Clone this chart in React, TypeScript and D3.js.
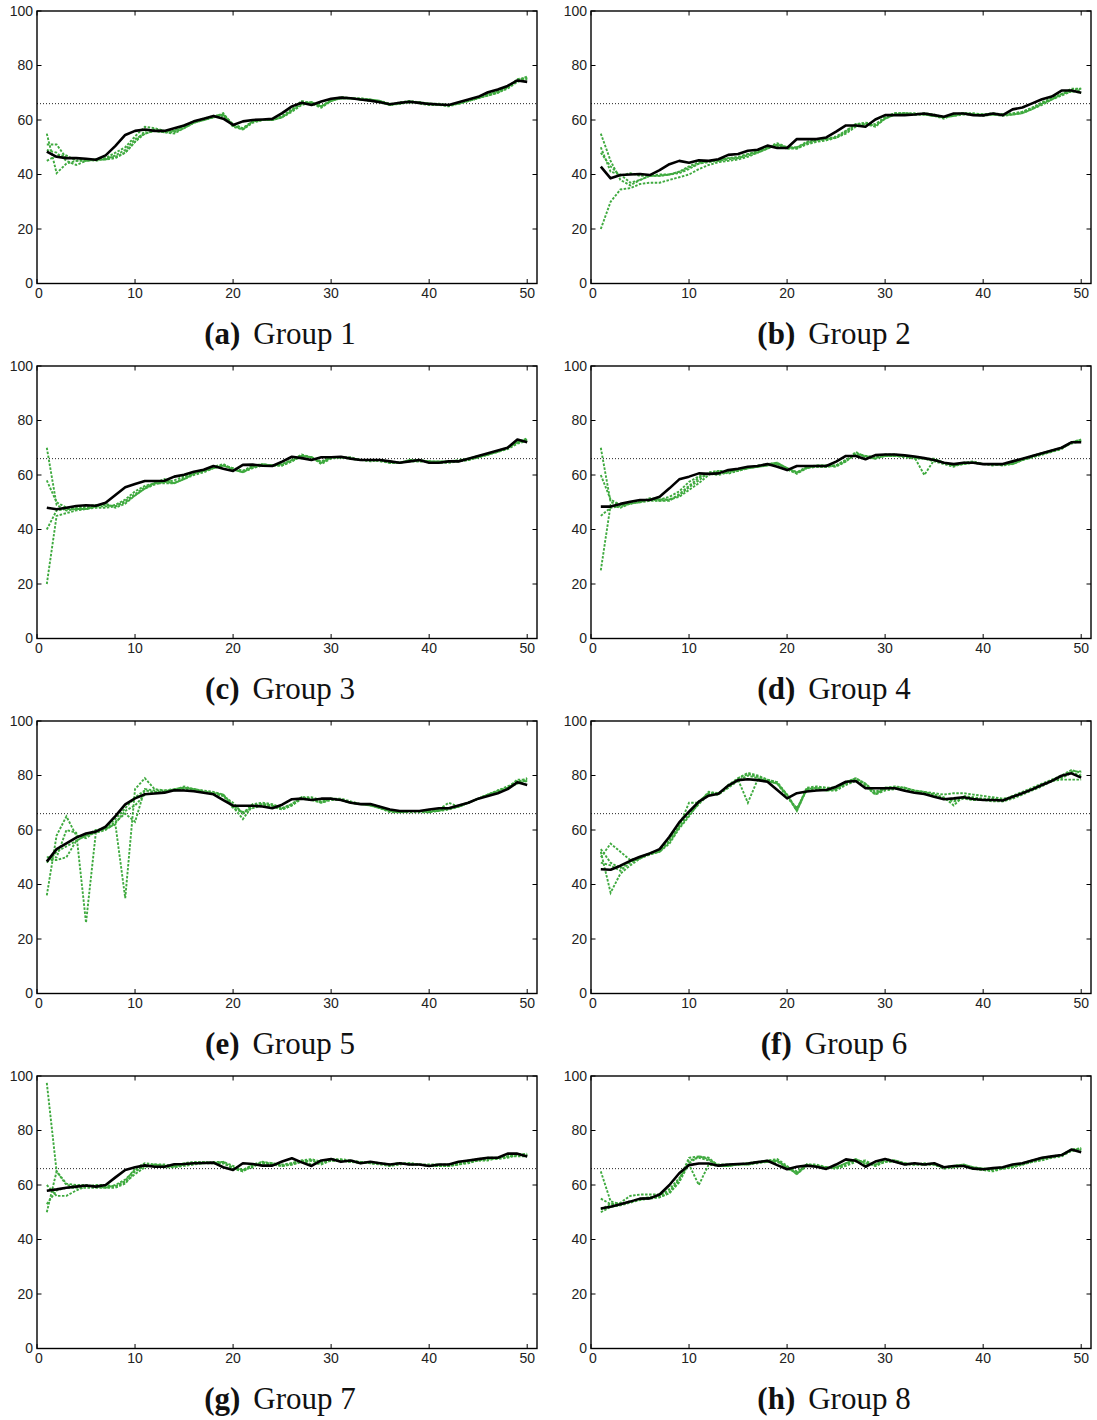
import React from 'react';
import * as d3 from 'd3';

// iteration index 1..50
const iterations = d3.range(1, 51);
const xTickValues = [0, 10, 20, 30, 40, 50];
const yTickValues = [0, 20, 40, 60, 80, 100];
const threshold = 66;

const meanA = [48.4, 46.5, 46, 46, 45.8, 45.4, 47, 50.5, 54.5, 56, 56.5, 56, 56, 57, 58, 59.5, 60.5, 61.5, 60.5, 58.2, 59.5, 60, 60.2, 60.4, 62.5, 65, 66.3, 65.5, 66.8, 67.8, 68.2, 68, 67.5, 67.1, 66.5, 65.8, 66.3, 66.7, 66.3, 65.9, 65.7, 65.5, 66.5, 67.5, 68.5, 70.2, 71.2, 72.5, 74.5, 74];
const runsA = [
  [55, 40.5, 44, 45, 45, 45.5, 45.5, 46, 48, 52, 55, 56, 55.5, 55.5, 57, 59, 60, 61, 62.5, 58, 56.5, 59.5, 60, 60, 61, 63.5, 66, 66.5, 65, 67, 68, 68, 67.5, 67.5, 67, 65.5, 66, 67, 66.5, 66, 65.5, 65.5, 66, 67, 68, 69, 70, 72, 74.5, 75.5],
  [51, 51, 46, 46, 45, 45.5, 46, 48, 50, 54, 57.5, 57, 56, 56, 58, 59.5, 60.5, 61.5, 62, 57.5, 56.5, 59, 60, 60, 61.5, 64, 67, 66, 64.5, 67, 68.5, 68, 68, 67.5, 66.5, 65.5, 66.5, 67, 66, 65.5, 65.5, 65, 66, 67, 68, 69.5, 70.5, 72, 75, 75.5],
  [49, 48, 45, 43.5, 45, 45.5, 45.5, 47, 49, 53, 55, 56, 55.5, 55, 57, 59, 60, 61, 61.5, 58, 57, 59.5, 60, 60, 61, 63, 65.5, 66.5, 65, 67.5, 68, 68, 67.5, 67, 66.5, 65.5, 66, 66.5, 66.5, 66, 65.5, 65.5, 66, 67, 68, 69, 70, 71.5, 74, 75],
  [45, 47, 47, 45, 45.5, 45, 46, 46.5, 48, 52, 56, 56.5, 56, 56, 57.5, 59, 60, 61, 62, 58.5, 57, 59.5, 60, 60, 61, 63.5, 66.5, 66.5, 65, 67, 68, 68, 67.5, 67.5, 67, 66, 66, 66.5, 66.5, 66, 66, 65.5, 66, 67, 68, 69.5, 70.5, 72, 74.5, 76],
];

const meanB = [42.9, 38.6, 39.8, 40, 40.2, 39.8, 41.6, 43.8, 45, 44.3, 45.2, 45, 45.6, 47.2, 47.5, 48.7, 49.1, 50.6, 49.7, 49.7, 53, 53, 53, 53.6, 55.7, 58, 58, 57.5, 60.2, 61.8, 61.8, 61.8, 62, 62.4, 61.8, 61.2, 62.4, 62.4, 61.8, 61.7, 62.4, 61.8, 63.9, 64.6, 66.1, 67.6, 68.6, 70.8, 70.8, 70];
const runsB = [
  [55, 45, 38, 36, 38, 39.5, 39.5, 40, 41, 42.5, 44, 45, 45, 46, 46, 47.5, 48.5, 50, 51.5, 50, 49.5, 51.5, 52.5, 53, 53.5, 56, 58.5, 59, 58.5, 61, 62.5, 62.5, 62, 62.5, 62, 61, 62, 62.5, 62, 62, 62, 62, 62, 63, 64.5, 66, 68, 69.5, 71.5, 71.5],
  [20, 30, 34.5, 35, 36.5, 37, 37, 38, 39, 40, 42, 43.5, 44.5, 45, 45.5, 46.5, 48, 49.5, 51, 49.5, 49.5, 51, 52, 52.5, 53.5, 55.5, 58, 58.5, 58, 60.5, 62, 62, 62, 62, 61.5, 61, 61.5, 62, 62, 61.5, 62, 61.5, 62, 62.5, 64, 65.5, 67.5, 69, 70.5, 71],
  [50, 41, 40, 37, 38, 39.5, 40, 40, 40.5, 42, 44, 44.5, 45, 45.5, 46, 47, 48, 49.5, 51, 50, 50, 51.5, 52.5, 53, 53.5, 55, 57.5, 58.5, 57.5, 60.5, 62, 62.5, 62.5, 62, 61.5, 61, 61.5, 62.5, 62.5, 62, 62, 62, 62, 62.5, 64, 66, 67.5, 69.5, 71, 71.5],
  [48, 43, 39.5, 40.5, 39.5, 39.5, 39.5, 40, 41, 43, 44.5, 45, 45.5, 46, 46.5, 47.5, 48.5, 50, 50.5, 49.5, 50, 52, 53, 53, 54, 56, 58.5, 58.5, 58, 61, 62.5, 62.5, 62, 62, 61.5, 60.5, 62, 62.5, 62, 62, 62.5, 62, 62.5, 63, 64.5, 66.5, 68, 69.5, 70.5, 70],
];

const meanC = [48, 47.4, 48, 48.6, 48.9, 48.7, 49.8, 52.7, 55.5, 56.7, 57.8, 57.8, 57.9, 59.4, 60.1, 61.2, 61.9, 63.3, 62.3, 61.5, 63.7, 63.8, 63.4, 63.3, 64.9, 66.7, 66.2, 65.5, 66.5, 66.5, 66.7, 66, 65.5, 65.5, 65.5, 65, 64.5, 65, 65.5, 64.5, 64.5, 65, 65, 66, 67, 68, 69, 70, 73, 72];
const runsC = [
  [70, 49, 47, 47.5, 47.5, 48.5, 48.5, 49, 51, 54, 56, 57, 57.5, 58, 59.5, 61, 62, 63, 64, 62, 61, 63, 64, 63.5, 64, 65.5, 67.5, 66.5, 64.5, 66.5, 66.5, 66, 65.5, 65.5, 65.5, 65, 64.5, 65.5, 65.5, 65, 65, 65, 65, 66, 66.5, 67.5, 68.5, 70, 72, 73],
  [20, 45, 46, 47, 47.5, 48, 48, 48.5, 50, 52.5, 55, 56.5, 57.5, 57, 58.5, 60.5, 61.5, 62.5, 63.5, 62, 61, 62.5, 63.5, 63.5, 64, 65.5, 67, 66.5, 64, 66, 66.5, 66, 65.5, 65.5, 65.5, 64.5, 64.5, 65, 65, 65, 64.5, 64.5, 65, 65.5, 66.5, 67.5, 68.5, 69.5, 71.5, 72.5],
  [58, 50, 48, 48, 48.5, 49, 49, 48.5, 50.5, 53, 55.5, 57, 58.5, 57, 59, 60.5, 61.5, 62.5, 63.5, 62.5, 61.5, 63.5, 64, 63.5, 63.5, 65, 67, 66.5, 65, 66.5, 66.5, 66, 65.5, 65, 65.5, 64.5, 64.5, 65.5, 65, 65, 65, 65, 65, 65.5, 66.5, 67.5, 69, 70, 72, 73.5],
  [40, 47, 47.5, 47.5, 48, 48.5, 49.5, 48, 49.5, 52.5, 55, 57, 57, 57, 58.5, 60, 61, 62.5, 63.5, 62.5, 61.5, 63, 63.5, 63.5, 63.5, 65, 67, 66.5, 64.5, 66.5, 66.5, 66.5, 65.5, 65.5, 65, 64.5, 64.5, 65, 65, 65, 64.5, 65, 65.5, 66, 67, 67.5, 68.5, 70, 72, 73],
];

const meanD = [48.4, 48.4, 49.4, 50.2, 50.8, 50.8, 52, 55.1, 58.4, 59.4, 60.6, 60.4, 60.6, 61.8, 62.3, 63, 63.3, 64, 63, 61.8, 63.3, 63.3, 63.3, 63.3, 64.9, 67, 67, 65.8, 67.3, 67.5, 67.5, 67.2, 66.8, 66.2, 65.5, 64.5, 64, 64.5, 64.5, 64, 64, 64, 65, 66, 67, 68, 69, 70, 72, 72];
const runsD = [
  [70, 50, 49, 49.5, 50.5, 51, 51, 52, 54, 57.5, 59.5, 60.5, 60, 61, 62, 62.5, 63.5, 64, 64.5, 62.5, 60.5, 63, 63.5, 63.5, 63.5, 65.5, 68, 67, 66.5, 67, 67.5, 67, 66.5, 60, 65.5, 64.5, 63.5, 64, 64.5, 64, 64, 63.5, 64.5, 66, 67, 68, 69, 70, 72, 73],
  [25, 49, 48, 49.5, 50, 50.5, 50.5, 50.5, 53, 56, 59, 60.5, 60.5, 61, 62, 62.5, 63, 63.5, 64, 62, 60.5, 62.5, 63.5, 63.5, 63, 65, 68.5, 66.5, 66, 67, 67, 66.5, 66, 66, 65, 64, 63, 64.5, 64.5, 64, 64, 63.5, 64, 65.5, 66.5, 67.5, 68.5, 69.5, 72, 72.5],
  [60, 51, 49, 49.5, 50.5, 51, 50.5, 51, 52.5, 55.5, 58, 61, 61.5, 60.5, 61.5, 62.5, 63, 63.5, 64, 62.5, 61, 63, 63, 63, 63.5, 65.5, 67.5, 67, 66, 67.5, 67.5, 67, 66.5, 66, 66, 64.5, 63.5, 64.5, 65, 64, 64, 64, 64, 65.5, 67, 68, 69, 70, 71.5, 72.5],
  [45, 48, 48.5, 49.5, 50, 51.5, 51, 51, 52, 54.5, 57, 60, 61.5, 61.5, 61.5, 62.5, 63, 64, 64.5, 62.5, 61, 62.5, 63, 63, 63.5, 65, 67.5, 67, 66.5, 67, 67, 67, 66.5, 66, 65.5, 64.5, 63.5, 64, 64.5, 64, 63.5, 64, 64, 65.5, 66.5, 67.5, 68.5, 70, 72, 73],
];

const meanE = [48.4, 53, 55.1, 57.2, 58.7, 59.4, 61.2, 65.1, 69.4, 71.6, 73.1, 73.4, 73.7, 74.6, 74.5, 74.2, 73.7, 73.1, 71, 68.9, 68.9, 68.9, 68.6, 68, 69.3, 71.3, 71.5, 71, 71.5, 71.5, 71, 70, 69.5, 69.5, 68.5, 67.5, 67, 67, 67, 67.5, 68, 68, 69, 70, 71.5, 72.5, 73.5, 75, 77.5, 76.5];
const runsE = [
  [36, 58, 65, 58, 57, 59.5, 61, 64, 68, 72, 74.5, 74, 74, 75, 75.5, 75, 74, 73.5, 72.5, 68.5, 64, 69, 69.5, 69, 68, 69.5, 72, 71, 70.5, 71.5, 71, 70, 69.5, 69.5, 68, 67, 66.5, 67, 67, 67, 67.5, 68, 69, 70, 71.5, 73, 74, 75.5, 78, 78],
  [50, 50, 60, 59, 26, 59, 60.5, 63, 66, 63, 75, 74.5, 74.5, 75, 75.5, 75, 74.5, 74, 73, 69, 66.5, 68, 69, 68.5, 67.5, 69, 72, 71.5, 70, 71.5, 71, 70, 69.5, 69, 68, 66.5, 66.5, 67, 67, 66.5, 67.5, 70, 68.5, 70, 71.5, 73, 74.5, 75.5, 78.5, 78.5],
  [49, 49, 50, 56, 58, 60, 60.5, 62, 35, 75, 79, 75, 74.5, 74.5, 76, 75, 74, 73.5, 72.5, 70, 66, 69.5, 70, 69.5, 68, 69.5, 72, 72, 71, 71.5, 71.5, 70.5, 69.5, 69.5, 68.5, 67, 66.5, 67, 67, 67, 67, 68, 68.5, 70, 71.5, 73, 74.5, 76, 77.5, 79],
  [48, 52, 54, 56, 58, 59, 60, 62.5, 67, 69, 73, 74, 74, 74.5, 75, 75, 74, 73.5, 73, 68, 66.5, 68.5, 69.5, 69, 67.5, 69, 71.5, 71, 70, 71, 71, 70, 69.5, 69, 68, 67, 66.5, 66.5, 66.5, 66.5, 67, 67.5, 68.5, 70, 71.5, 73, 74, 75.5, 77, 78],
];

const meanF = [45.6, 45.4, 46.9, 48.7, 50.2, 51.4, 53, 57.5, 62.8, 66.7, 70.4, 72.6, 73.3, 76.3, 78.3, 78.6, 78.3, 77.7, 74.7, 71.6, 73.5, 74.1, 74.5, 74.7, 75.9, 77.7, 78, 75.3, 75.3, 75.3, 75.3, 74.4, 73.7, 73.2, 72.2, 71.3, 71.6, 72, 71.4, 71, 71, 70.8, 72.2, 73.5, 74.9, 76.5, 78, 79.9, 80.8, 79.2];
const runsF = [
  [52, 37, 44, 47, 49.5, 51, 52, 56, 62, 66, 70.5, 73.5, 73.5, 76, 78.5, 70, 78.5, 78, 77, 73, 67, 75, 75.5, 75.5, 75.5, 77.5, 79, 77, 74, 75.5, 75.5, 75.5, 74.5, 74, 73, 72, 69, 72.5, 72, 71.5, 71.5, 71, 72.5, 74, 75.5, 77, 78.5, 80, 82, 81],
  [50, 55, 52, 49, 50, 51, 52.5, 56.5, 61.5, 70, 70, 73.5, 73, 76.5, 79, 80.5, 79.5, 78.5, 77.5, 73, 67.5, 75.5, 76, 75.5, 75, 77, 78.5, 76.5, 73, 75.5, 76, 75.5, 74.5, 74, 73.5, 73, 73.5, 73.5, 73, 72.5, 72, 71.5, 72, 73.5, 75, 76.5, 78, 78.5, 78.5, 78.5],
  [48, 47, 45, 48, 50, 51.5, 52.5, 55.5, 61, 65.5, 69.5, 73, 73, 75.5, 79, 81, 80, 78.5, 77.5, 72.5, 67, 75, 75.5, 74.5, 75, 77.5, 79, 77, 73.5, 75, 75.5, 75.5, 74, 73.5, 73, 71.5, 70.5, 71.5, 71, 71, 71, 70.5, 72, 73.5, 75, 76.5, 78, 79.5, 81.5, 81.5],
  [53, 48, 46, 48.5, 49.5, 51.5, 52, 55, 60.5, 65, 70, 74, 73.5, 75.5, 78, 80, 79, 78, 77, 72, 68, 74.5, 75, 74.5, 74.5, 76.5, 78, 76, 73, 74.5, 75, 75, 74, 73.5, 73, 71.5, 71, 72, 71, 71, 70.5, 70.5, 71.5, 73, 74.5, 76, 78, 79, 81, 80],
];

const meanG = [57.9, 58.4, 59, 59.4, 59.8, 59.4, 60, 62.8, 65.5, 66.5, 67.2, 66.7, 66.7, 67.6, 67.7, 68, 68.1, 68.2, 66.5, 65.5, 68, 67.7, 67.1, 67.1, 68.6, 69.8, 68.3, 67, 69, 69.5, 68.5, 69, 68, 68.5, 68, 67.5, 68, 67.5, 67.5, 67, 67.5, 67.5, 68.5, 69, 69.5, 70, 70, 71.5, 71.5, 70.5];
const runsG = [
  [97.5, 65, 60.5, 60, 60, 59.5, 59, 60, 62, 65.5, 67, 67.5, 67, 66.5, 67.5, 68, 68.5, 68, 68, 66, 65.5, 67.5, 68.5, 67.5, 67, 68, 69, 67.5, 68, 69, 69, 68.5, 68, 68.5, 68, 67.5, 68, 67.5, 67.5, 67, 67, 67.5, 68, 69, 69.5, 70, 70, 70.5, 71, 71],
  [50, 65, 60, 59.5, 59.5, 59.5, 59.5, 59.5, 61, 64, 66.5, 67.5, 67, 67, 67.5, 68, 68, 68.5, 68.5, 67, 65.5, 66.5, 68.5, 68, 67.5, 68, 69, 69.5, 68.5, 69.5, 69.5, 69, 68.5, 68, 68, 67.5, 68, 68, 67.5, 67.5, 67.5, 67.5, 68, 68.5, 69, 69.5, 70, 70.5, 71.5, 71],
  [60, 56, 56, 58, 59.5, 60, 60, 59.5, 61.5, 66, 68, 67.5, 67.5, 67, 68, 68.5, 68.5, 68, 68, 66.5, 65, 67.5, 68, 68, 67, 67.5, 68.5, 69, 68, 69, 69, 68.5, 68.5, 68, 67.5, 67, 67.5, 68, 67.5, 67, 67, 67, 67.5, 68, 69, 69.5, 69.5, 70, 71, 71.5],
  [53, 58, 59, 59, 59, 59, 59, 59, 60.5, 65, 67, 67, 66.5, 66.5, 67, 67.5, 68, 68, 68.5, 66, 65, 67, 68, 67.5, 67, 67.5, 68.5, 69, 67.5, 69, 69, 68.5, 68.5, 68, 68, 67, 68, 67.5, 67.5, 67, 67, 67, 67.5, 68.5, 69, 69, 70, 70.5, 70.5, 70.5],
];

const meanH = [51.4, 52, 52.9, 53.9, 55, 55.1, 56.5, 60, 64.3, 67.3, 67.9, 67.9, 67.1, 67.5, 67.7, 67.9, 68.4, 68.9, 67.3, 65.8, 66.7, 67.1, 66.7, 65.9, 67.5, 69.4, 68.9, 66.7, 68.6, 69.5, 68.5, 67.5, 68, 67.5, 68, 66.5, 67, 67, 66, 65.8, 66.2, 66.5, 67.5, 68, 69, 70, 70.5, 71, 73, 72];
const runsH = [
  [65, 54, 53, 54, 55, 55.5, 56, 58.5, 62.5, 67.5, 60, 67.5, 67, 67, 67.5, 67.5, 68.5, 68.5, 68.5, 66.5, 64, 67.5, 67, 66.5, 66.5, 68, 69.5, 67.5, 67.5, 69, 68.5, 67.5, 68, 67.5, 68, 66.5, 67, 67.5, 66.5, 66, 66, 66, 67, 68, 69, 70, 70.5, 71, 73, 73.5],
  [55, 53, 53.5, 56, 56.5, 56.5, 56.5, 57.5, 62, 70, 70.5, 69.5, 67, 67, 67.5, 68, 68.5, 68.5, 69, 66.5, 65, 67.5, 67, 66, 66.5, 68, 69.5, 68, 67.5, 69.5, 69, 68, 67.5, 68, 67.5, 66.5, 67, 67.5, 66.5, 66, 66, 66.5, 67, 67.5, 68.5, 69.5, 70, 71, 73, 73],
  [50, 52, 52.5, 53.5, 54.5, 55, 55.5, 57, 61.5, 69, 70, 69, 67.5, 67.5, 67.5, 68, 68.5, 69, 69.5, 67, 64, 67, 67, 66.5, 66, 67.5, 69, 68.5, 67, 68.5, 69, 68, 67.5, 67.5, 67.5, 66.5, 66.5, 67, 66, 65.5, 65, 66, 66.5, 67.5, 68.5, 69.5, 70.5, 71, 72.5, 73.5],
  [51, 53, 53, 54, 54.5, 55.5, 55.5, 57, 61, 68, 70.5, 70, 67, 67, 67.5, 67.5, 68, 68.5, 69, 66, 64.5, 67.5, 67.5, 66.5, 66, 67, 68.5, 69, 67, 68.5, 68.5, 67.5, 67.5, 67.5, 67.5, 66, 66.5, 67, 66, 65.5, 65.5, 66, 66.5, 67.5, 68.5, 69, 70, 70.5, 72.5, 73],
];

const panels = [
  { tag: 'a', title: 'Group 1', mean: meanA, runs: runsA },
  { tag: 'b', title: 'Group 2', mean: meanB, runs: runsB },
  { tag: 'c', title: 'Group 3', mean: meanC, runs: runsC },
  { tag: 'd', title: 'Group 4', mean: meanD, runs: runsD },
  { tag: 'e', title: 'Group 5', mean: meanE, runs: runsE },
  { tag: 'f', title: 'Group 6', mean: meanF, runs: runsF },
  { tag: 'g', title: 'Group 7', mean: meanG, runs: runsG },
  { tag: 'h', title: 'Group 8', mean: meanH, runs: runsH },
];

const plotW = 500;
const plotH = 272.5;
const colLeft = [37, 591];
const rowTop = [11, 366, 721, 1076];
const green = '#3faa3f';
const tickFont = '"Liberation Sans", Arial, sans-serif';
const serif = '"Liberation Serif", "Times New Roman", serif';

const Panel = ({ p, left, top }) => {
  const x = d3.scaleLinear().domain([0, 51]).range([0, plotW]);
  const y = d3.scaleLinear().domain([0, 100]).range([plotH, 0]);
  const line = d3
    .line<number>()
    .x((_, i) => x(iterations[i]))
    .y((d) => y(d));
  const tickLen = 4.5;

  return (
    <g transform={`translate(${left},${top})`}>
      {/* threshold */}
      <line
        x1={0}
        x2={plotW}
        y1={y(threshold)}
        y2={y(threshold)}
        stroke="#222"
        strokeWidth={1}
        strokeDasharray="1,2"
      />
      {p.runs.map((r, i) => (
        <path
          key={i}
          d={line(r)}
          fill="none"
          stroke={green}
          strokeWidth={1.9}
          strokeDasharray="2.5,1.5"
        />
      ))}
      <path d={line(p.mean)} fill="none" stroke="#000" strokeWidth={2.6} strokeLinejoin="round" />

      {/* box + inward ticks */}
      <rect x={0} y={0} width={plotW} height={plotH} fill="none" stroke="#000" strokeWidth={1.4} />
      {xTickValues.map((t) => (
        <g key={'x' + t}>
          <line x1={x(t)} x2={x(t)} y1={plotH} y2={plotH - tickLen} stroke="#000" strokeWidth={1} />
          <line x1={x(t)} x2={x(t)} y1={0} y2={tickLen} stroke="#000" strokeWidth={1} />
          <text
            x={x(t) + (t === 0 ? 2 : 0)}
            y={plotH + 14}
            textAnchor="middle"
            fontFamily={tickFont}
            fontSize={14}
            fill="#222"
          >
            {t}
          </text>
        </g>
      ))}
      {yTickValues.map((t) => (
        <g key={'y' + t}>
          <line x1={0} x2={tickLen} y1={y(t)} y2={y(t)} stroke="#000" strokeWidth={1} />
          <line x1={plotW} x2={plotW - tickLen} y1={y(t)} y2={y(t)} stroke="#000" strokeWidth={1} />
          <text
            x={-4}
            y={y(t)}
            dy="0.35em"
            textAnchor="end"
            fontFamily={tickFont}
            fontSize={14}
            fill="#222"
          >
            {t}
          </text>
        </g>
      ))}

      <text
        x={plotW / 2 - 7}
        y={plotH + 60}
        textAnchor="middle"
        fontFamily={serif}
        fontSize={31}
        fill="#111"
      >
        <tspan fontWeight="bold">({p.tag})</tspan>
        <tspan dx={13}>{p.title}</tspan>
      </text>
    </g>
  );
};

export default function App() {
  return (
    <svg
      width={1097}
      height={1420}
      viewBox="0 0 1097 1420"
      style={{ position: 'absolute', left: 0, top: 0, background: '#fff' }}
    >
      <rect width={1097} height={1420} fill="#fff" />
      {panels.map((p, i) => (
        <Panel key={p.tag} p={p} left={colLeft[i % 2]} top={rowTop[Math.floor(i / 2)]} />
      ))}
    </svg>
  );
}
